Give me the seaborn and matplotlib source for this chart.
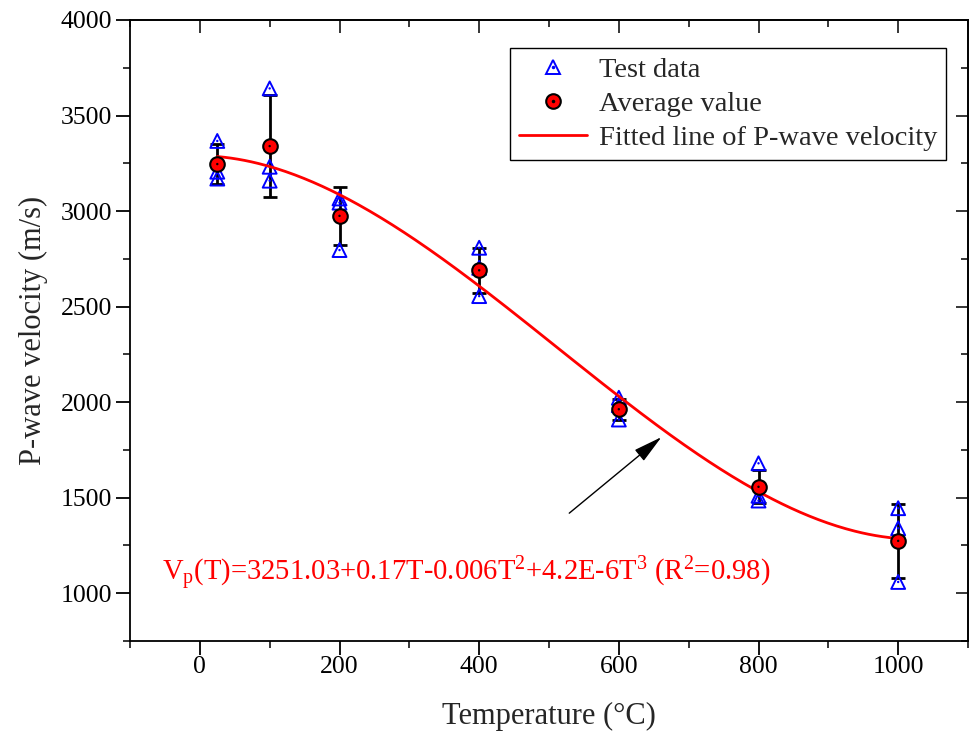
import numpy as np
import pandas as pd
import seaborn as sns
import matplotlib
matplotlib.use("Agg")
import matplotlib.pyplot as plt
from matplotlib.ticker import MultipleLocator
from matplotlib.lines import Line2D
from matplotlib.legend_handler import HandlerTuple

# ---------------- data ----------------
temperature = [25, 100, 200, 400, 600, 800, 1000]
test_1 = [3367, 3642, 3066, 2808, 2023, 1680, 1445]
test_2 = [3206, 3232, 3044, 2703, 1984, 1510, 1340]
test_3 = [3170, 3159, 2796, 2555, 1909, 1485, 1059]
average = [3246, 3340, 2975, 2690, 1963, 1557, 1274]
error = [105, 268, 150, 118, 55, 87, 193]

equation = (r"V$_\mathregular{p}$(T)=3251.03+0.17T-0.006T$^\mathregular{2}$"
            r"+4.2E-6T$^\mathregular{3}$ (R$^\mathregular{2}$=0.98)")

# ---------------- style ----------------
sns.set_style("ticks")
plt.rcParams["font.family"] = ["Liberation Serif", "DejaVu Serif"]
plt.rcParams["mathtext.fontset"] = "custom"
plt.rcParams["mathtext.rm"] = "Liberation Serif"
plt.rcParams["mathtext.default"] = "regular"

tests = pd.DataFrame({
    "T": temperature * 3,
    "V": test_1 + test_2 + test_3,
})
means = pd.DataFrame({"T": temperature, "V": average, "err": error})

# cubic fit of the test data
coef = np.polyfit(tests["T"], tests["V"], 3)
t_fit = np.linspace(min(temperature), max(temperature), 300)
fit = pd.DataFrame({"T": t_fit, "V": np.polyval(coef, t_fit)})

fig = plt.figure(figsize=(9.73, 7.31), dpi=100)
ax = fig.add_axes([130 / 973, 1 - 641 / 731, 838 / 973, 621 / 731])

# error bars
ax.errorbar(means["T"], means["V"], yerr=means["err"], fmt="none",
            ecolor="black", elinewidth=2, capsize=5, capthick=2, zorder=2)

# test data triangles
sns.scatterplot(data=tests, x="T", y="V", marker="^", s=100,
                facecolors="none", edgecolor="blue", linewidth=1.4,
                ax=ax, zorder=3, legend=False)
sns.scatterplot(data=tests, x="T", y="V", marker="o", s=3,
                color="blue", edgecolor="none", ax=ax, zorder=3, legend=False)

# fitted line
sns.lineplot(data=fit, x="T", y="V", color="red", linewidth=2,
             ax=ax, zorder=4, legend=False)

# averages
sns.scatterplot(data=means, x="T", y="V", marker="o", s=110,
                color="red", edgecolor="black", linewidth=1.5,
                ax=ax, zorder=5, legend=False)
sns.scatterplot(data=means, x="T", y="V", marker="o", s=3,
                color="black", edgecolor="none", ax=ax, zorder=6, legend=False)

# axes
ax.set_xlim(-100, 1100)
ax.set_ylim(750, 4000)
ax.xaxis.set_major_locator(MultipleLocator(200))
ax.xaxis.set_minor_locator(MultipleLocator(100))
ax.yaxis.set_major_locator(MultipleLocator(500))
ax.yaxis.set_minor_locator(MultipleLocator(250))
ax.tick_params(which="major", direction="out", length=10, width=1.3,
               labelsize=18.5, colors="black")
ax.tick_params(which="minor", direction="out", length=5, width=1.3)
ax.tick_params(axis="x", which="major", pad=1.0)
ax.tick_params(axis="y", which="major", pad=3)
for s in ax.spines.values():
    s.set_visible(True)
    s.set_linewidth(1.3)
    s.set_color("black")

sec_y = ax.secondary_yaxis("right")
sec_y.yaxis.set_major_locator(MultipleLocator(500))
sec_y.yaxis.set_minor_locator(MultipleLocator(250))
sec_y.tick_params(which="major", direction="in", length=9, width=1.3, labelright=False)
sec_y.tick_params(which="minor", direction="in", length=5, width=1.3)
sec_y.spines["right"].set_linewidth(1.3)
sec_x = ax.secondary_xaxis("top")
sec_x.xaxis.set_major_locator(MultipleLocator(200))
sec_x.xaxis.set_minor_locator(MultipleLocator(100))
sec_x.tick_params(which="major", direction="in", length=9, width=1.3, labeltop=False)
sec_x.tick_params(which="minor", direction="in", length=5, width=1.3)
sec_x.spines["top"].set_linewidth(1.3)

ax.set_xlabel("Temperature (°C)", fontsize=22, labelpad=17)
ax.set_ylabel("P-wave velocity (m/s)", fontsize=22, labelpad=9)

# annotation
ax.annotate("", xy=(661, 1817), xytext=(529, 1419),
            arrowprops=dict(arrowstyle="-|>,head_length=0.9,head_width=0.22",
                            color="black", lw=1, mutation_scale=20,
                            shrinkA=0, shrinkB=0))
ax.text(-54, 1100, equation, color="red", fontsize=20.6, ha="left", va="center")

# legend
tri = Line2D([], [], marker="^", linestyle="none", markersize=10,
             markerfacecolor="none", markeredgecolor="blue", markeredgewidth=1.4)
tri_dot = Line2D([], [], marker="o", linestyle="none", markersize=1.5,
                 color="blue")
circ = Line2D([], [], marker="o", linestyle="none", markersize=10.5,
              markerfacecolor="red", markeredgecolor="black", markeredgewidth=1.5)
circ_dot = Line2D([], [], marker="o", linestyle="none", markersize=1.5,
                  color="black")
line = Line2D([], [], color="red", linewidth=2)
leg = ax.legend([(tri, tri_dot), (circ, circ_dot), line],
                ["Test data", "Average value", "Fitted line of P-wave velocity"],
                handler_map={tuple: HandlerTuple(ndivide=1)},
                loc="upper right", bbox_to_anchor=(946 / 973, 1 - 48 / 731),
                bbox_transform=fig.transFigure, fontsize=20.5,
                frameon=True, fancybox=False, edgecolor="black",
                framealpha=1, borderpad=0.32, labelspacing=0.28,
                handlelength=2.4, handletextpad=0.4, borderaxespad=0)
leg.get_frame().set_linewidth(1.0)

fig.savefig("out.png", dpi=100)
